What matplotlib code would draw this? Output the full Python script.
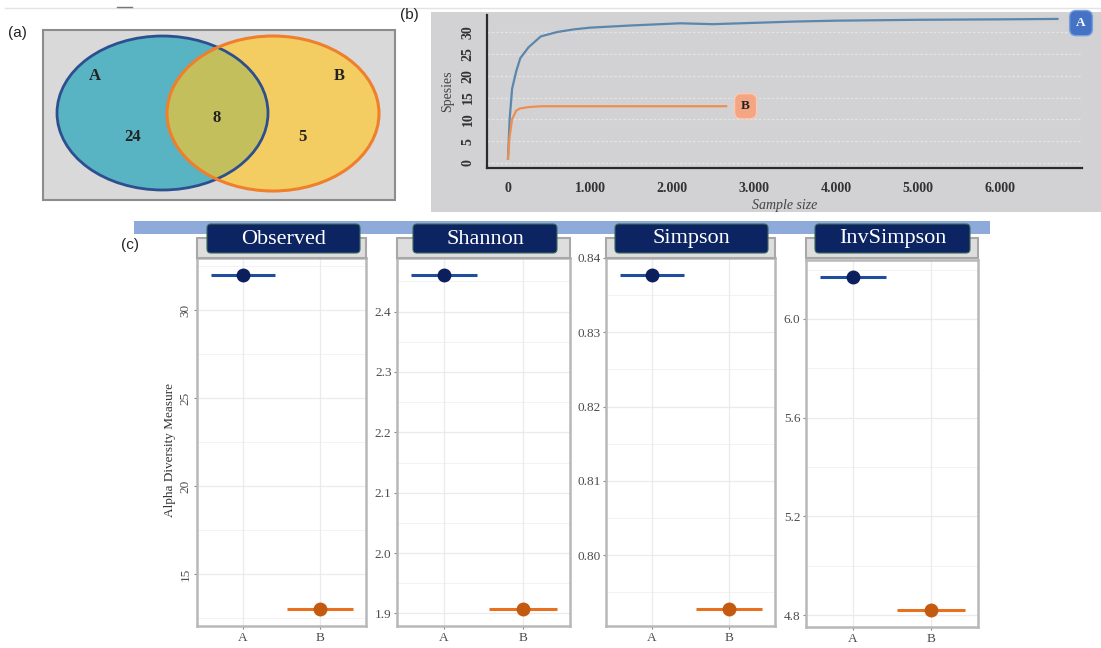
import matplotlib
matplotlib.use("Agg")
import matplotlib.pyplot as plt
from matplotlib.patches import Ellipse, Rectangle, FancyBboxPatch
import numpy as np

# ---------------- data ----------------
venn_sets = ["A", "B"]
venn_counts = {"A_only": 24, "AB": 8, "B_only": 5}

rare_A_x = [0, 20, 50, 100, 150, 250, 400, 600, 800, 1000, 1500, 2100, 2500, 3000, 3500, 4000, 5000, 6000, 6700]
rare_A_y = [1, 10, 17, 21, 24, 26.5, 29, 30, 30.6, 31, 31.5, 32, 31.8, 32.1, 32.4, 32.6, 32.8, 32.9, 33]
rare_B_x = [0, 20, 50, 100, 150, 250, 400, 800, 1500, 2100, 2660]
rare_B_y = [1, 6, 10, 12, 12.5, 12.8, 13, 13, 13, 13, 13]
rare_xticks = [0, 1000, 2000, 3000, 4000, 5000, 6000]
rare_xticklabels = ["0", "1.000", "2.000", "3.000", "4.000", "5.000", "6.000"]
rare_yticks = [0, 5, 10, 15, 20, 25, 30]

groups = ["A", "B"]
measures = ["Observed", "Shannon", "Simpson", "InvSimpson"]
alpha_A = [32, 2.461, 0.8377, 6.171]
alpha_B = [13, 1.907, 0.7927, 4.820]
alpha_ticks = [[15, 20, 25, 30],
               [1.9, 2.0, 2.1, 2.2, 2.3, 2.4],
               [0.80, 0.81, 0.82, 0.83, 0.84],
               [4.8, 5.2, 5.6, 6.0]]
alpha_fmt = ["{:.0f}", "{:.1f}", "{:.2f}", "{:.1f}"]

# ---------------- figure ----------------
W, H = 1101, 648
fig = plt.figure(figsize=(W / 100, H / 100), dpi=100)
fig.patch.set_facecolor("white")
SERIF = ["Liberation Serif", "DejaVu Serif"]
SANS = ["Liberation Sans", "DejaVu Sans"]


def rect(x0, y0, x1, y1):
    return [x0 / W, 1 - y1 / H, (x1 - x0) / W, (y1 - y0) / H]


# background / decoration axes in pixel coordinates
bg = fig.add_axes([0, 0, 1, 1], zorder=0)
bg.set_xlim(0, W)
bg.set_ylim(H, 0)
bg.axis("off")

bg.plot([5, W], [8, 8], color="#e3e3e3", lw=1)
bg.plot([117, 132], [7, 7], color="#777777", lw=1)

# ---- panel (a) Venn ----
bg.add_patch(Rectangle((43, 30), 352, 170, facecolor="#d9d9d9", edgecolor="#8c8c8c", lw=1.5))
eA = Ellipse((162.5, 113), 211, 154, facecolor="#58b3c3", edgecolor="none")
eB = Ellipse((273, 113.5), 212, 155, facecolor="#f3cd62", edgecolor="none")
bg.add_patch(eA)
bg.add_patch(eB)
eAB = Ellipse((273, 113.5), 212, 155, facecolor="#c4bf5d", edgecolor="none")
bg.add_patch(eAB)
eAB.set_clip_path(eA)
bg.add_patch(Ellipse((162.5, 113), 211, 154, facecolor="none", edgecolor="#2d4f8f", lw=2))
bg.add_patch(Ellipse((273, 113.5), 212, 155, facecolor="none", edgecolor="#f07f2c", lw=2.2))
vt = dict(family=SERIF, fontweight="bold", fontsize=12, color="#222222", ha="center", va="center")
bg.text(95, 76, venn_sets[0], **vt)
bg.text(339, 76, venn_sets[1], **vt)
bg.text(133, 137, str(venn_counts["A_only"]), **vt)
bg.text(217, 118, str(venn_counts["AB"]), **vt)
bg.text(302, 137, str(venn_counts["B_only"]), **vt)
bg.text(8, 33, "(a)", family=SANS, fontsize=11, ha="left", va="center", color="#222222")

# ---- panel (b) background ----
bg.add_patch(Rectangle((431, 12), W - 431, 200, facecolor="#d2d1d3", edgecolor="none"))
bg.text(400, 15, "(b)", family=SANS, fontsize=11, ha="left", va="center", color="#222222")

# ---- panel (c) decorations ----
bg.add_patch(Rectangle((134, 221), 856, 13, facecolor="#8eaadb", edgecolor="none"))
bg.text(121, 245, "(c)", family=SANS, fontsize=11, ha="left", va="center", color="#222222")
bg.text(170, 450, "Alpha Diversity Measure", family=SERIF, fontsize=9.5, rotation=90,
        ha="center", va="center", color="#333333")

# ---------------- panel (b) rarefaction ----------------
axb = fig.add_axes(rect(487, 15, 1082, 168), zorder=1)
axb.patch.set_alpha(0)
axb.set_xlim(-256, 7000)
axb.set_ylim(-1.15, 33.9)
for y in rare_yticks:
    axb.axhline(y, color="#e4e4e4", lw=0.9, ls=(0, (2, 1.5)), zorder=0)
axb.plot(rare_A_x, rare_A_y, color="#5b87ad", lw=1.6, zorder=2)
axb.plot(rare_B_x, rare_B_y, color="#ee8f52", lw=1.6, zorder=2)
axb.annotate("A", (rare_A_x[-1], rare_A_y[-1]), xytext=(17, -3), textcoords="offset points",
             ha="center", va="center", family=SERIF, fontweight="bold", fontsize=9.5, color="white",
             bbox=dict(boxstyle="round,pad=0.5", fc="#4472c4", ec="#7aa0dc", lw=1))
axb.annotate("B", (rare_B_x[-1], rare_B_y[-1]), xytext=(14, 0), textcoords="offset points",
             ha="center", va="center", family=SERIF, fontweight="bold", fontsize=9.5, color="#222222",
             bbox=dict(boxstyle="round,pad=0.5", fc="#f4a582", ec="#f9cbb4", lw=1))
for s in ["top", "right"]:
    axb.spines[s].set_visible(False)
for s in ["left", "bottom"]:
    axb.spines[s].set_color("#2b2b2b")
    axb.spines[s].set_linewidth(1.6)
axb.set_xticks(rare_xticks)
axb.set_xticklabels(rare_xticklabels, family=SERIF, fontweight="bold", fontsize=10, color="#333333")
axb.set_yticks(rare_yticks)
axb.set_yticklabels([str(v) for v in rare_yticks], family=SERIF, fontweight="bold", fontsize=10,
                    color="#333333", rotation=90, va="center")
axb.tick_params(axis="x", length=0, pad=10)
axb.tick_params(axis="y", length=0, pad=9)
axb.set_xlabel("Sample size", family=SERIF, style="italic", fontsize=10, color="#444444", labelpad=3)
axb.set_ylabel("Spesies", family=SERIF, fontsize=10, color="#444444", labelpad=5)

# ---------------- panel (c) alpha diversity ----------------
panel_px = [(197, 258, 366, 626), (397, 258, 570, 626), (606, 258, 775, 626), (806, 260, 978, 627)]
navy_px = [(207, 360), (413, 557), (615, 768), (815, 970)]
colA_line, colA_pt = "#1f4e9c", "#0a1f5c"
colB_line, colB_pt = "#e8711f", "#c45a10"

ov = fig.add_axes([0, 0, 1, 1], zorder=5)
ov.set_xlim(0, W)
ov.set_ylim(H, 0)
ov.axis("off")
ov.patch.set_alpha(0)

for i, m in enumerate(measures):
    x0, y0, x1, y1 = panel_px[i]
    ax = fig.add_axes(rect(x0, y0, x1, y1), zorder=1)
    ax.set_facecolor("white")
    lo = min(alpha_A[i], alpha_B[i])
    hi = max(alpha_A[i], alpha_B[i])
    pad = 0.05 * (hi - lo)
    ax.set_ylim(lo - pad, hi + pad)
    ax.set_xlim(0.4, 2.6)
    ticks = alpha_ticks[i]
    step = ticks[1] - ticks[0]
    minors = [t + step / 2 for t in [ticks[0] - step] + ticks]
    for t in ticks:
        ax.axhline(t, color="#ebebeb", lw=0.9, zorder=0)
    for t in minors:
        ax.axhline(t, color="#f3f3f3", lw=0.7, zorder=0)
    for xx in (1, 2):
        ax.axvline(xx, color="#ebebeb", lw=0.9, zorder=0)
    ax.hlines(alpha_A[i], 1 - 0.42, 1 + 0.42, color=colA_line, lw=2.2, zorder=2)
    ax.plot([1], [alpha_A[i]], "o", color=colA_pt, ms=9, zorder=3)
    ax.hlines(alpha_B[i], 2 - 0.43, 2 + 0.43, color=colB_line, lw=2.2, zorder=2)
    ax.plot([2], [alpha_B[i]], "o", color=colB_pt, ms=9, zorder=3)
    ax.set_xticks([1, 2])
    ax.set_xticklabels(groups, family=SERIF, fontsize=9.5, color="#4d4d4d")
    ax.set_yticks(ticks)
    if i == 0:
        ax.set_yticklabels([alpha_fmt[i].format(t) for t in ticks], family=SERIF, fontsize=9.5,
                           color="#4d4d4d", rotation=90, va="center")
    else:
        ax.set_yticklabels([alpha_fmt[i].format(t) for t in ticks], family=SERIF, fontsize=9.5,
                           color="#4d4d4d")
    ax.tick_params(length=2, width=0.8, color="#888888", pad=2)
    for s in ax.spines.values():
        s.set_color("#b8b8b8")
        s.set_linewidth(1.8)
    # strip
    ov.add_patch(Rectangle((x0, 238), x1 - x0, 20, facecolor="#dedede", edgecolor="#a8a8a8", lw=1.5))
    n0, n1 = navy_px[i]
    ov.add_patch(FancyBboxPatch((n0, 224), n1 - n0, 29, boxstyle="round,pad=0,rounding_size=4",
                                facecolor="#0c2461", edgecolor="#3c6a5a", lw=0.8))
    ov.text((n0 + n1) / 2, 239, m, family=SERIF, fontsize=16, color="white", ha="center", va="center")

fig.savefig("out.png", dpi=100)
